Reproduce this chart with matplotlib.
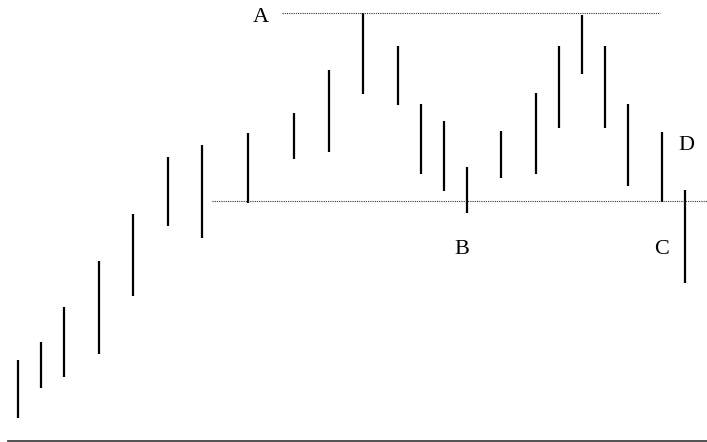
import matplotlib
matplotlib.use("Agg")
import matplotlib.pyplot as plt

# Session positions (time units) and high/low prices (arbitrary units)
sessions = [0, 1, 2, 3.5, 5, 6.5, 8, 10, 12, 13.5, 15, 16.5, 17.5, 18.5, 19.5,
            21, 22.5, 23.5, 24.5, 25.5, 26.5, 28, 29]
highs = [82, 100, 135, 181, 228, 285, 297, 309, 329, 372, 429, 396, 338, 321,
         275, 311, 349, 396, 427, 396, 338, 310, 252]
lows = [24, 54, 65, 88, 146, 216, 204, 239, 283, 290, 348, 337, 268, 251,
        229, 264, 268, 314, 368, 314, 256, 240, 159]

resistance = 429.5
support = 241
resistance_span = [11.48, 27.9]
support_span = [8.43, 31]

labels = ["A", "B", "C", "D"]
label_pos = [(10.57, 424), (19.3, 193), (28.0, 193), (29.05, 297)]

fig = plt.figure(figsize=(7.07, 4.42), dpi=100)
ax = fig.add_axes([0, 0, 1, 1])
ax.set_xlim(-18 / 23, (707 - 18) / 23)
ax.set_ylim(0, 442)
ax.axis("off")

ax.vlines(sessions, lows, highs, color="black", linewidth=1.6)

ax.hlines(resistance, resistance_span[0], resistance_span[1], color="#333333",
          linewidth=0.8, linestyles=(0, (1, 1)))
ax.hlines(support, support_span[0], support_span[1], color="#333333",
          linewidth=0.8, linestyles=(0, (1, 1)))

for lab, (x, y) in zip(labels, label_pos):
    ax.text(x, y, lab, fontsize=16, family="Liberation Serif",
            ha="center", va="center", color="black")

# bottom border line
ax.plot([8 / 707, 1], [1 / 442, 1 / 442], transform=ax.transAxes,
        color="#444444", linewidth=1.3, clip_on=False)

fig.savefig("out.png", dpi=100)
